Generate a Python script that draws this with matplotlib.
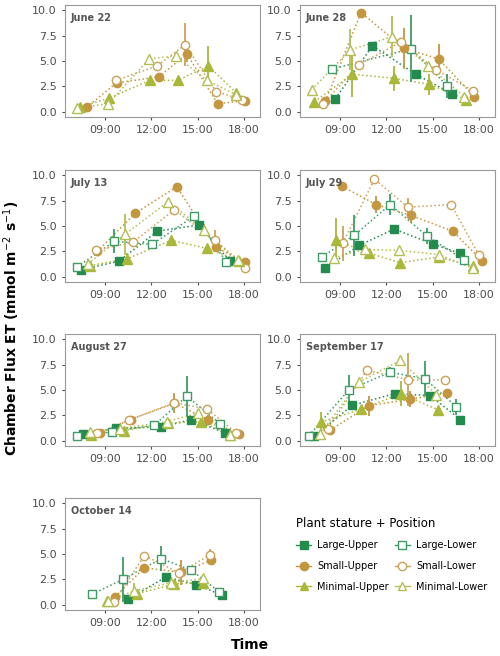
import matplotlib.pyplot as plt
from matplotlib.lines import Line2D
import numpy as np

# hour of day, ET value, error half-width (0 = none)
june22 = {
  'Minimal-Lower': ([7.17, 9.2, 11.87, 13.6, 15.6, 17.5], [0.4, 0.8, 5.2, 5.5, 3.1, 1.7], [0, 0, 0, 0, 0, 0]),
  'Minimal-Upper': ([7.35, 9.26, 11.9, 13.7, 15.7, 17.5], [0.5, 1.35, 3.1, 3.1, 4.5, 1.9], [0, 0, 0, 0, 2.0, 0]),
  'Small-Lower': ([9.7, 12.35, 14.2, 16.2, 17.9], [3.1, 4.5, 6.6, 2.0, 1.2], [0, 0, 2.1, 0, 0]),
  'Small-Upper': ([7.8, 9.75, 12.5, 14.3, 16.3, 18.05], [0.45, 2.85, 3.45, 5.7, 0.8, 1.1], [0, 0, 0, 0.8, 0, 0]),
}
june28 = {
  'Minimal-Lower': ([7.16, 9.67, 12.4, 14.7, 17.07], [2.2, 6.1, 7.4, 4.55, 1.5], [0, 2.0, 2.0, 0, 0]),
  'Minimal-Upper': ([7.33, 9.8, 12.5, 14.8, 17.2], [1.0, 3.7, 3.3, 2.7, 1.2], [0, 2.2, 1.2, 1.0, 0]),
  'Large-Lower': ([8.46, 13.6, 15.95], [4.2, 6.2, 2.55], [0, 3.3, 1.2]),
  'Large-Upper': ([8.7, 11.1, 13.9, 16.25], [1.3, 6.5, 3.7, 1.8], [0, 0, 0, 0]),
  'Small-Lower': ([7.87, 10.2, 12.95, 15.25, 17.6], [0.75, 4.6, 6.9, 4.1, 2.1], [0, 0, 0, 0, 0]),
  'Small-Upper': ([8.05, 10.36, 13.15, 15.4, 17.7], [1.05, 9.75, 6.25, 5.2, 1.5], [0, 0, 2.0, 1.5, 0]),
}
july13 = {
  'Large-Lower': ([7.2, 9.6, 12.05, 14.8, 16.85], [1.0, 3.5, 3.2, 6.0, 1.5], [0, 1.2, 0, 0, 0]),
  'Large-Upper': ([7.47, 9.9, 12.4, 15.1, 17.1], [0.7, 1.55, 4.5, 5.1, 1.55], [0, 0, 0, 0, 0.3]),
  'Minimal-Lower': ([7.9, 10.3, 13.1, 15.4, 17.6], [1.3, 4.2, 7.4, 4.6, 1.7], [0, 2.0, 0, 0.6, 0]),
  'Minimal-Upper': ([8.0, 10.45, 13.3, 15.6, 17.7], [1.1, 1.8, 3.6, 2.8, 1.6], [0, 0.5, 0.3, 0, 0]),
  'Small-Lower': ([8.4, 10.8, 13.5, 16.1, 18.05], [2.65, 3.4, 6.6, 3.6, 0.9], [0, 0, 0, 1.0, 0]),
  'Small-Upper': ([8.5, 10.95, 13.65, 16.2, 18.1], [2.5, 6.25, 8.85, 2.9, 1.45], [0, 0, 0, 0, 0]),
}
july29 = {
  'Large-Lower': ([7.83, 9.93, 12.25, 14.65, 17.03], [1.95, 4.1, 7.1, 4.0, 1.7], [0.3, 2.0, 1.0, 0.8, 0]),
  'Large-Upper': ([8.05, 10.25, 12.5, 15.0, 16.8], [0.9, 3.1, 4.7, 3.25, 2.3], [0, 0, 0, 0, 0]),
  'Minimal-Lower': ([8.6, 10.6, 12.85, 15.4, 17.6], [1.9, 2.7, 2.6, 2.2, 0.85], [0, 0, 0, 0, 0]),
  'Minimal-Upper': ([8.74, 10.85, 12.9, 15.4, 17.6], [3.6, 2.35, 1.4, 1.95, 1.05], [2.2, 0, 0, 0, 0]),
  'Small-Lower': ([9.17, 11.23, 13.4, 16.2, 18.0], [3.3, 9.6, 6.85, 7.1, 2.15], [1.7, 0, 0.9, 0, 0]),
  'Small-Upper': ([9.13, 11.35, 13.57, 16.3, 18.2], [8.9, 7.1, 6.05, 4.5, 1.6], [0, 0.8, 0.8, 0, 0]),
}
aug27 = {
  'Large-Lower': ([7.2, 9.45, 12.2, 14.3, 16.45], [0.5, 0.9, 1.55, 4.4, 1.7], [0, 0, 0, 2.0, 0]),
  'Large-Upper': ([7.55, 9.7, 12.6, 14.6, 16.75], [0.65, 1.25, 1.35, 2.1, 0.8], [0, 0, 0, 0, 0]),
  'Minimal-Lower': ([8.0, 10.0, 13.0, 15.0, 17.1], [0.9, 1.2, 1.9, 2.7, 0.6], [0, 0, 0, 0, 0]),
  'Minimal-Upper': ([8.1, 10.2, 13.05, 15.25, 17.1], [0.6, 1.0, 1.75, 1.9, 0.6], [0, 0, 0, 0.6, 0]),
  'Small-Lower': ([8.5, 10.55, 13.5, 15.6, 17.5], [0.75, 2.05, 3.75, 3.15, 0.8], [0, 0, 0, 0, 0]),
  'Small-Upper': ([8.65, 10.65, 13.5, 15.7, 17.7], [0.75, 2.1, 3.7, 2.05, 0.65], [0, 0, 1.0, 0.5, 0]),
}
sep17 = {
  'Large-Lower': ([6.97, 9.55, 12.25, 14.5, 16.55], [0.5, 5.0, 6.75, 6.1, 3.35], [0, 1.5, 0.5, 1.7, 0.8]),
  'Large-Upper': ([7.3, 9.8, 12.55, 14.85, 16.8], [0.45, 3.5, 4.65, 4.45, 2.1], [0, 0, 0, 0, 0]),
  'Minimal-Lower': ([7.7, 10.2, 12.9, 15.25], [0.65, 5.75, 7.9, 4.55], [0, 0, 0, 0]),
  'Minimal-Upper': ([7.75, 10.35, 12.95, 15.35], [1.85, 3.1, 4.65, 3.05], [1.0, 0, 1.2, 0]),
  'Small-Lower': ([8.2, 10.75, 13.4, 15.8], [1.2, 6.95, 6.0, 6.0], [0, 0, 2.6, 0]),
  'Small-Upper': ([8.35, 10.85, 13.55, 15.95], [1.05, 3.45, 4.1, 4.7], [0, 1.0, 0.8, 0.3]),
}
oct14 = {
  'Large-Lower': ([8.15, 10.15, 12.65, 14.6, 16.4], [1.05, 2.5, 4.55, 3.4, 1.3], [0, 2.2, 1.2, 0, 0]),
  'Large-Upper': ([10.5, 12.95, 14.9, 16.6], [0.55, 2.75, 2.0, 0.95], [0, 0, 0, 0]),
  'Minimal-Lower': ([9.2, 10.85, 13.3, 15.35], [0.4, 1.35, 2.2, 2.6], [0, 0.8, 0, 0]),
  'Minimal-Upper': ([9.1, 11.05, 13.5, 15.35], [0.4, 1.1, 2.05, 2.2], [0, 0, 0, 0]),
  'Small-Lower': ([9.55, 11.55, 13.8, 15.8], [0.25, 4.85, 3.15, 4.9], [0, 0, 0, 0.6]),
  'Small-Upper': ([9.65, 11.55, 13.95, 15.9], [0.8, 3.65, 3.2, 4.4], [0, 0.4, 1.2, 0.4]),
}
dates = ['June 22', 'June 28', 'July 13', 'July 29', 'August 27', 'September 17', 'October 14']
panels = [june22, june28, july13, july29, aug27, sep17, oct14]

styles = {
  'Large-Upper': ('#238b4e', 's', True),
  'Large-Lower': ('#3f9b68', 's', False),
  'Small-Upper': ('#c4963f', 'o', True),
  'Small-Lower': ('#c9a25a', 'o', False),
  'Minimal-Upper': ('#a9b839', '^', True),
  'Minimal-Lower': ('#b3bf55', '^', False),
}
order = ['Large-Upper', 'Large-Lower', 'Small-Upper', 'Small-Lower', 'Minimal-Upper', 'Minimal-Lower']
legend_order = ['Large-Upper', 'Small-Upper', 'Minimal-Upper', 'Large-Lower', 'Small-Lower', 'Minimal-Lower']

W, H = 500, 656
fig = plt.figure(figsize=(W / 100, H / 100), dpi=100)
lefts = [65, 300]
tops = [5, 170, 334, 498]
pw, ph = 195, 112

for i, (name, data) in enumerate(zip(dates, panels)):
    l = lefts[i % 2]; t = tops[i // 2]
    ax = fig.add_axes([l / W, 1 - (t + ph) / H, pw / W, ph / H])
    for key in order:
        if key not in data:
            continue
        x, y, e = data[key]
        c, m, filled = styles[key]
        x = np.array(x); y = np.array(y); e = np.array(e)
        ax.plot(x, y, ls=':', color=c, lw=1.1, zorder=1)
        mask = e > 0
        ax.errorbar(x[mask], y[mask], yerr=e[mask], fmt='none', ecolor=c, elinewidth=1.3, capsize=0, zorder=2)
        ax.plot(x, y, ls='none', marker=m, ms=6.5 if m == '^' else 6,
                mfc=c if filled else 'white', mec=c, mew=1.0, zorder=3)
    ax.set_xlim(6.4, 19.05)
    ax.set_ylim(-0.5, 10.5)
    ax.set_xticks([9, 12, 15, 18])
    ax.set_xticklabels(['09:00', '12:00', '15:00', '18:00'])
    ax.set_yticks([0, 2.5, 5, 7.5, 10])
    ax.set_yticklabels(['0.0', '2.5', '5.0', '7.5', '10.0'])
    ax.tick_params(colors='#4d4d4d', labelsize=8, length=2.5, labelcolor='#4d4d4d')
    for s in ax.spines.values():
        s.set_color('#999999')
    ax.text(0.03, 0.93, name, transform=ax.transAxes, fontsize=7, fontweight='bold',
            color='#555555', va='top')

handles = []
for key in legend_order:
    c, m, filled = styles[key]
    handles.append(Line2D([], [], color=c, marker=m, ms=6, mfc=c if filled else 'white', mec=c, lw=1))
fig.legend(handles, legend_order, loc='upper left', bbox_to_anchor=(287 / W, 1 - 508 / H), ncol=2,
           frameon=False, fontsize=7, title='Plant stature + Position', title_fontsize=8.5,
           alignment='left', handlelength=1.6, handletextpad=0.6, columnspacing=0.6, labelspacing=1.1)

fig.text(12 / W, 0.5, 'Chamber Flux ET (mmol m$^{-2}$ s$^{-1}$)', rotation=90, ha='center', va='center',
         fontsize=10, fontweight='bold')
fig.text(0.5, 1 - 645 / H, 'Time', ha='center', va='center', fontsize=10, fontweight='bold')
fig.savefig('out.png', dpi=100)
